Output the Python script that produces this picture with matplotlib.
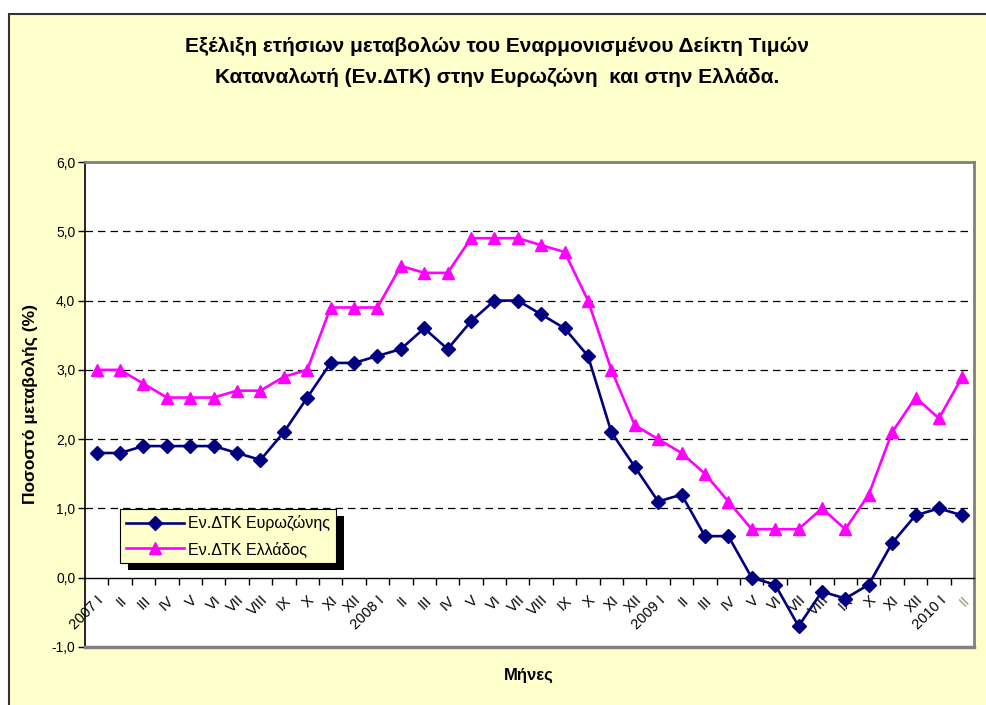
import matplotlib
matplotlib.use("Agg")
import matplotlib.pyplot as plt
from matplotlib.patches import Rectangle
from matplotlib.lines import Line2D

plt.rcParams['font.family'] = ['Liberation Sans', 'DejaVu Sans']

# monthly labels, I 2007 .. II 2010
months = ['I', 'II', 'III', 'IV', 'V', 'VI', 'VII', 'VIII', 'IX', 'X', 'XI', 'XII']
years = ['2007', '2008', '2009', '2010']
labels = []
for y in years:
    for m in months:
        labels.append(f'{y} {m}' if m == 'I' else m)
labels = labels[:38]

euro_area = [1.8, 1.8, 1.9, 1.9, 1.9, 1.9, 1.8, 1.7, 2.1, 2.6, 3.1, 3.1,
             3.2, 3.3, 3.6, 3.3, 3.7, 4.0, 4.0, 3.8, 3.6, 3.2, 2.1, 1.6,
             1.1, 1.2, 0.6, 0.6, 0.0, -0.1, -0.7, -0.2, -0.3, -0.1, 0.5, 0.9,
             1.0, 0.9]
greece = [3.0, 3.0, 2.8, 2.6, 2.6, 2.6, 2.7, 2.7, 2.9, 3.0, 3.9, 3.9,
          3.9, 4.5, 4.4, 4.4, 4.9, 4.9, 4.9, 4.8, 4.7, 4.0, 3.0, 2.2,
          2.0, 1.8, 1.5, 1.1, 0.7, 0.7, 0.7, 1.0, 0.7, 1.2, 2.1, 2.6,
          2.3, 2.9]

W, H = 986, 705
fig = plt.figure(figsize=(W / 100, H / 100), dpi=100, facecolor='white')

# chart area background with dark frame (extends past the right/bottom edge)
fig.patches.append(Rectangle((9 / W, -0.1), 1.2, 1 - 14 / H + 0.1,
                             transform=fig.transFigure, facecolor='#FFFFCC',
                             edgecolor='#333333', linewidth=1.5, zorder=-10))

ax = fig.add_axes([85 / W, 1 - 647 / H, (974 - 85) / W, (647 - 162) / H])
ax.set_facecolor('white')

x = list(range(len(labels)))
ax.plot(x, euro_area, color='#000080', lw=1.9, marker='D', ms=7,
        label='Εν.ΔΤΚ Ευρωζώνης', zorder=4)
ax.plot(x, greece, color='#FF00FF', lw=1.9, marker='^', ms=9,
        label='Εν.ΔΤΚ Ελλάδος', zorder=3)

ax.set_xlim(-0.5, len(labels) - 0.5)
ax.set_ylim(-1, 6)

# dashed grid lines
for v in [1, 2, 3, 4, 5]:
    ax.axhline(v, color='black', lw=0.9, dashes=(6, 4), zorder=1)

# plot area frame
ax.spines['top'].set_color('#808080')
ax.spines['top'].set_linewidth(2)
ax.spines['right'].set_color('#808080')
ax.spines['right'].set_linewidth(2)
ax.spines['left'].set_color('black')
ax.spines['left'].set_linewidth(1.2)
ax.spines['bottom'].set_position(('data', 0))
ax.spines['bottom'].set_color('black')
ax.spines['bottom'].set_linewidth(1)
ax.add_line(Line2D([0, 1], [0, 0], transform=ax.transAxes, color='#808080',
                   lw=2.5, clip_on=False, zorder=5))

# y axis
ax.set_yticks(range(-1, 7))
ax.set_yticklabels([f'{v:.1f}'.replace('.', ',') for v in range(-1, 7)])
ax.tick_params(axis='y', direction='out', length=5, width=1, pad=2,
               labelsize=10)

# x axis: ticks between categories, labels at centres
ax.set_xticks([i + 0.5 for i in range(len(labels) - 1)])
ax.set_xticklabels([])
ax.tick_params(axis='x', which='major', direction='out', length=5, width=1)
ax.set_xticks(x, minor=True)
ax.set_xticklabels(labels, minor=True, rotation=45, ha='right', va='top',
                   rotation_mode='anchor', fontsize=10.5)
ax.tick_params(axis='x', which='minor', length=0, pad=11)
ax.get_xticklabels(minor=True)[-1].set_color('#9c9470')

fig.text(497 / W, 1 - 62 / H,
         'Εξέλιξη ετήσιων μεταβολών του Εναρμονισμένου Δείκτη Τιμών\n'
         'Καταναλωτή (Εν.ΔΤΚ) στην Ευρωζώνη  και στην Ελλάδα.',
         ha='center', va='center', fontsize=15, fontweight='bold',
         linespacing=1.75)
fig.text(30 / W, 1 - 404 / H, 'Ποσοστό μεταβολής (%)', rotation=90,
         ha='center', va='center', fontsize=12.5, fontweight='bold')
fig.text(529 / W, 1 - 675 / H, 'Μήνες', ha='center', va='center',
         fontsize=12, fontweight='bold')

leg = ax.legend(loc='upper left', bbox_to_anchor=(120 / W, 1 - 509 / H),
                bbox_transform=fig.transFigure, fontsize=11.5, frameon=True,
                fancybox=False, edgecolor='black', facecolor='#FFFFCC',
                framealpha=1, borderaxespad=0, handlelength=3.6,
                borderpad=0.4, labelspacing=0.6, handletextpad=0.25)
leg.get_frame().set_linewidth(0.8)
leg.set_zorder(10)

fig.canvas.draw()
bb = leg.get_window_extent()
shadow = Rectangle((bb.x0 + 8, bb.y0 - 7), bb.width, bb.height,
                   transform=None, facecolor='black', edgecolor='none',
                   zorder=9, clip_on=False)
ax.add_artist(shadow)

fig.savefig('out.png', dpi=100, facecolor=fig.get_facecolor())
